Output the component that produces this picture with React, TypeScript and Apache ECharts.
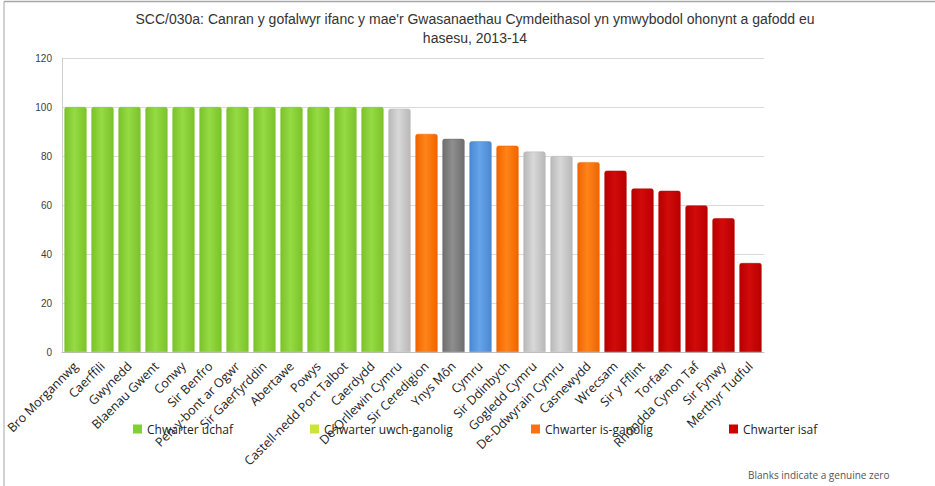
import React, { useEffect, useRef } from "react";
import * as echarts from "echarts";

const categories = [
  "Bro Morgannwg", "Caerffili", "Gwynedd", "Blaenau Gwent", "Conwy", "Sir Benfro",
  "Pen-y-bont ar Ogwr", "Sir Gaerfyrddin", "Abertawe", "Powys", "Castell-nedd Port Talbot",
  "Caerdydd", "De-Orllewin Cymru", "Sir Ceredigion", "Ynys Môn", "Cymru", "Sir Ddinbych",
  "Gogledd Cymru", "De-Ddwyrain Cymru", "Casnewydd", "Wrecsam", "Sir y Fflint", "Torfaen",
  "Rhondda Cynon Taf", "Sir Fynwy", "Merthyr Tudful",
];
const values = [
  100, 100, 100, 100, 100, 100, 100, 100, 100, 100, 100, 100,
  99.3, 89, 87, 86, 84.2, 81.8, 80, 77.5, 74, 66.7, 65.8, 59.8, 54.6, 36.3,
];
// group of each bar: g=top, r=regional/grey, o=lower-mid, d=Ynys Mon dark grey, b=Wales, x=bottom
const groups = [
  "g", "g", "g", "g", "g", "g", "g", "g", "g", "g", "g", "g",
  "r", "o", "d", "b", "o", "r", "r", "o", "x", "x", "x", "x", "x", "x",
];
const legendNames = ["Chwarter uchaf", "Chwarter uwch-ganolig", "Chwarter is-ganolig", "Chwarter isaf"];
const yTicks = [0, 20, 40, 60, 80, 100, 120];

const baseColors: Record<string, [string, string]> = {
  g: ["#7cc22a", "#94db44"],
  r: ["#b8b8b8", "#d8d8d8"],
  o: ["#f06400", "#ff8418"],
  d: ["#6e6e6e", "#8e8e8e"],
  b: ["#4a88d0", "#66a4ea"],
  x: ["#b80000", "#d20a0a"],
};
const legendColors = ["#7fcf35", "#cde23a", "#ff7010", "#cc0000"];

function grad(g: string) {
  const [edge, mid] = baseColors[g];
  return new echarts.graphic.LinearGradient(0, 0, 1, 0, [
    { offset: 0, color: edge },
    { offset: 0.45, color: mid },
    { offset: 1, color: edge },
  ]);
}

export default function App() {
  const ref = useRef<HTMLDivElement>(null);
  useEffect(() => {
    document.body.style.margin = "0";
    if (!ref.current) return;
    const chart = echarts.init(ref.current, null, { renderer: "svg" });
    const legendLefts = [133, 310, 531, 729];
    const option: any = {
      animation: false,
      backgroundColor: "#ffffff",
      title: {
        text: "SCC/030a: Canran y gofalwyr ifanc y mae'r Gwasanaethau Cymdeithasol yn ymwybodol ohonynt a gafodd eu\nhasesu, 2013-14",
        left: 470,
        textAlign: "center",
        top: 4,
        textStyle: {
          fontFamily: "Liberation Sans, Arial",
          fontSize: 14,
          fontWeight: "normal",
          color: "#333333",
          lineHeight: 19,
        },
      },
      legend: legendNames.map((n, i) => ({
        data: [n],
        left: legendLefts[i],
        top: 423,
        padding: 0,
        icon: "rect",
        itemWidth: 9,
        itemHeight: 9,
        itemGap: 3,
        textStyle: { fontFamily: "Open Sans, Liberation Sans", fontSize: 12, color: "#222" },
        selectedMode: false,
      })),
      grid: { left: 62, right: 171, top: 58, bottom: 134, containLabel: false },
      xAxis: {
        type: "category",
        data: categories,
        axisTick: { show: false },
        axisLine: { lineStyle: { color: "#bfbfbf" } },
        axisLabel: {
          rotate: 45,
          interval: 0,
          margin: 12,
          fontFamily: "Open Sans, Liberation Sans",
          fontSize: 12.5,
          color: "#222222",
        },
      },
      yAxis: {
        type: "value",
        min: yTicks[0],
        max: yTicks[yTicks.length - 1],
        interval: 20,
        axisLine: { show: true, lineStyle: { color: "#cfcfcf" } },
        axisTick: { show: false },
        splitLine: { lineStyle: { color: "#d9d9d9", width: 1 } },
        axisLabel: { fontFamily: "Liberation Sans, Arial", fontSize: 10, color: "#404040", margin: 10 },
      },
      series: [
        {
          type: "bar",
          name: "values",
          stack: "all",
          barWidth: "82%",
          data: values.map((v, i) => ({
            value: v,
            itemStyle: {
              color: grad(groups[i]),
              borderColor: baseColors[groups[i]][0],
              borderWidth: 0.5,
              borderRadius: [2, 2, 0, 0],
            },
          })),
        },
        ...legendNames.map((n, i) => ({
          type: "bar",
          name: n,
          stack: "all",
          data: [],
          itemStyle: { color: legendColors[i] },
        })),
      ],
      graphic: [
        {
          type: "line",
          shape: { x1: 4, y1: 1.5, x2: 935, y2: 1.5 },
          style: { stroke: "#a6a6a6", lineWidth: 1.5 },
          silent: true,
        },
        {
          type: "line",
          shape: { x1: 4, y1: 1.5, x2: 4, y2: 486 },
          style: { stroke: "#a6a6a6", lineWidth: 1 },
          silent: true,
        },
        {
          type: "text",
          left: 748,
          top: 470,
          style: {
            text: "Blanks indicate a genuine zero",
            fontFamily: "Open Sans, Liberation Sans",
            fontSize: 10,
            fill: "#555",
          },
        },
      ],
    };
    chart.setOption(option);
    return () => chart.dispose();
  }, []);
  return <div ref={ref} style={{ width: 935, height: 486 }} />;
}
